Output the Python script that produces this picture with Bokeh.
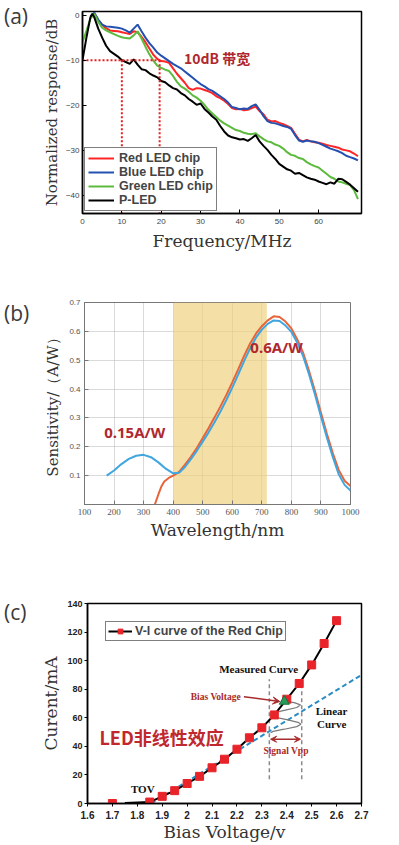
from bokeh.plotting import figure
from bokeh.models import Range1d, FixedTicker, Label, Legend, LegendItem, Arrow, VeeHead, Div
from bokeh.layouts import column, row
from bokeh.embed import file_html
from bokeh.resources import INLINE
from bokeh.core.properties import value

# ---------------- Panel (a) data ----------------
black_x = [0, 1, 2, 2.5, 3] + list(range(4, 71))
black_y = [-10, -5, -0.5, 0.3, -0.5,
           -3, -5, -6.8, -8, -8.6, -9.2, -10.0, -10.4, -10.8, -9.8, -11, -12, -12.2, -12.9, -13.4,
           -13.8, -14.6, -14.9, -15.6, -16.2, -16.5, -17.3, -17.8, -18.6, -19.2, -19.9, -19.6, -20.8,
           -21.6, -22.5, -23.2, -24.6, -25.8, -26.7, -27.1, -27.3, -27.6, -27.5, -27.9, -27.3, -26.6,
           -28, -29, -29.9, -31, -31.9, -33, -33.6, -34.2, -34.5, -35.2, -35, -35.5, -36, -36.3, -36.5,
           -36.9, -37.2, -37.5, -37.1, -37.4, -36.3, -36.4, -37, -37.6, -38.4, -39.2]
green_x = [0, 1, 2, 3] + list(range(4, 71))
green_y = [-6, -3.5, -0.8, 0.3,
           -1.5, -2.8, -3.4, -3.8, -4.2, -4.6, -4.9, -5.1, -5.2, -4.5, -3.6, -5.2, -7, -8.7, -10.1,
           -11.2, -11.7, -12.1, -12.4, -13.5, -14.8, -15.8, -16.3, -17, -17.8, -18.3, -19, -19.9, -21,
           -21.8, -22.6, -23.4, -24, -24.5, -25, -25.5, -25.7, -26.1, -26.3, -26.4, -26.2, -26.9, -27.5,
           -28, -28.2, -28.7, -29, -29.6, -30.4, -31, -31.2, -31.7, -31.9, -32.6, -33.1, -33.5, -33.8,
           -34.5, -35.2, -35.9, -36.3, -36.9, -37.1, -37.4, -37.7, -38.8, -40.8]
red_x = [2, 3] + list(range(4, 71))
red_y = [-0.5, 0.5,
         -1.2, -2.2, -2.9, -3.4, -3.5, -3.6, -3.8, -4, -4.2, -3.6, -3.8, -4.8, -6, -7.4, -8.8, -9.7,
         -10.2, -10.3, -10.6, -11.8, -13, -14, -15, -16.2, -16.6, -16.2, -16.3, -16.6, -16.9, -17.3,
         -18, -18.4, -19, -19.7, -20.6, -20.9, -20.8, -21.1, -21, -20.6, -20.3, -21.3, -22, -23.2,
         -23.6, -23.5, -23.9, -24.2, -24.6, -25, -26.3, -27.6, -28, -27.7, -28, -28.2, -28.3, -28.5,
         -28.8, -29, -29.2, -29.4, -29.8, -30, -30.2, -30.7, -31.3]
blue_x = [2, 3] + list(range(4, 71))
blue_y = [-0.3, 0.5,
          -1, -2.1, -2.5, -2.6, -2.7, -2.8, -3, -3.4, -3.9, -3, -2.1, -3.6, -5, -6.2, -7.2, -8.3, -9,
          -9.6, -10.2, -10.8, -11.3, -11.8, -12.5, -13.2, -13.9, -14.6, -15.3, -15.8, -16.4, -16.8,
          -17.4, -18, -18.6, -19.4, -20.4, -20.6, -20.9, -20.7, -20.8, -20.2, -19.8, -21, -22.4, -23.5,
          -23.9, -24, -24.3, -24.6, -24.8, -25.2, -26.6, -27.8, -28.1, -27.8, -28, -28.1, -28.4, -28.8,
          -29.2, -29.6, -29.9, -30.2, -30.6, -31.2, -31.5, -31.8, -32.2]
bw_level = -10
bw_freqs = [10, 19.6]
a_xticks = [0, 10, 20, 30, 40, 50, 60]
a_yticks = [0, -10, -20, -30, -40]

# ---------------- Panel (b) data ----------------
wl_blue = [175, 200, 225, 250, 275, 300, 325, 350, 375, 400, 420, 440, 460, 480, 500, 520, 540, 560,
           580, 600, 620, 640, 660, 680, 700, 720, 740, 760, 780, 800, 820, 840, 860, 880, 900, 920,
           940, 960, 980, 1000]
sens_blue = [0.100, 0.118, 0.140, 0.158, 0.169, 0.172, 0.164, 0.146, 0.124, 0.108, 0.110, 0.130,
             0.157, 0.186, 0.218, 0.250, 0.285, 0.322, 0.362, 0.405, 0.450, 0.497, 0.540, 0.578,
             0.606, 0.626, 0.638, 0.636, 0.620, 0.598, 0.560, 0.513, 0.450, 0.380, 0.305, 0.232,
             0.165, 0.105, 0.068, 0.048]
wl_red = [338, 350, 360, 370, 385, 400, 420, 440, 460, 480, 500, 520, 540, 560, 580, 600, 620, 640,
          660, 680, 700, 720, 740, 760, 780, 800, 820, 840, 860, 880, 900, 920, 940, 960, 980, 1000]
sens_red = [0.000, 0.035, 0.062, 0.080, 0.092, 0.100, 0.113, 0.138, 0.165, 0.196, 0.230, 0.265,
            0.302, 0.340, 0.380, 0.423, 0.468, 0.515, 0.557, 0.592, 0.618, 0.638, 0.652, 0.650,
            0.634, 0.610, 0.572, 0.525, 0.462, 0.392, 0.318, 0.245, 0.178, 0.120, 0.082, 0.064]
band_left = [400]
band_right = [717]
b_xticks = [100, 200, 300, 400, 500, 600, 700, 800, 900, 1000]
b_yticks = [0.1, 0.2, 0.3, 0.4, 0.5, 0.6, 0.7]

# ---------------- Panel (c) data ----------------
volt = [1.70, 1.85, 1.90, 1.95, 2.00, 2.05, 2.10, 2.15, 2.20, 2.25, 2.30, 2.35, 2.40, 2.45, 2.50, 2.55, 2.60]
curr = [0, 1, 5, 9, 14, 19, 25, 31, 38, 46, 53, 62, 73, 84, 97, 112, 128]
curve_v = [1.75] + volt[1:]
curve_i = [0.3] + curr[1:]
lin_v = [1.855, 2.7]
lin_i = [0, 90]
bias_v = [2.39]
bias_i = [71.5]
vpp_v = [2.33, 2.46]
vpp_i = [17, 87]
wave_v = [2.39, 2.43, 2.455, 2.44, 2.39, 2.345, 2.335, 2.35, 2.40, 2.445, 2.457, 2.44, 2.39, 2.345, 2.335]
wave_i = [71.5, 70.6, 69, 67.2, 65.2, 63.4, 62, 60.5, 58.7, 56.8, 55.5, 53.8, 52, 50.5, 49.5]
c_xticks = [1.6, 1.7, 1.8, 1.9, 2.0, 2.1, 2.2, 2.3, 2.4, 2.5, 2.6, 2.7]
c_yticks = [0, 20, 40, 60, 80, 100, 120, 140]

panel_tags = ["(a)", "(b)", "(c)"]

SERIF = "DejaVu Serif"
SANS = "Liberation Sans"
CJK = "Noto Sans CJK SC"
DARKRED = "#b0282e"
SIDE_W = 38


def make_fig(xr, yr, fw, fh, bl, br, bt, bb):
    p = figure(x_range=Range1d(*xr), y_range=Range1d(*yr), frame_width=fw, frame_height=fh,
               min_border_left=bl, min_border_right=br, min_border_top=bt, min_border_bottom=bb,
               output_backend="svg", toolbar_location=None)
    p.background_fill_color = "white"
    p.border_fill_color = "white"
    p.axis.minor_tick_line_color = None
    p.axis.major_tick_in = 4
    p.axis.major_tick_out = 0
    p.axis.axis_label_text_font = SERIF
    p.axis.axis_label_text_font_style = "normal"
    p.axis.axis_label_text_font_size = "17px"
    p.axis.axis_label_text_color = "#333333"
    return p


def tag_div(height, tag, center_y):
    # narrow strip holding the panel letter (line-height 24px -> centre = pad + 12)
    return Div(text=tag, width=SIDE_W, height=height, margin=0,
               styles={"font-family": "'Open Sans'", "font-size": "21px", "color": "#3a3a3a",
                       "line-height": "24px", "padding-top": f"{center_y - 12}px",
                       "padding-left": "4px", "box-sizing": "border-box"})


# ================= Panel (a) =================
pa = make_fig((0, 70.9), (-44, 0.8), 279, 202, 82 - SIDE_W, 38, 11, 40)
pa.grid.grid_line_color = None
pa.outline_line_color = "black"
pa.outline_line_width = 1.5
pa.axis.axis_line_color = "black"
pa.axis.axis_line_width = 1.5
pa.xaxis.ticker = FixedTicker(ticks=a_xticks)
pa.yaxis.ticker = FixedTicker(ticks=a_yticks)
pa.axis.major_label_text_font = SANS
pa.axis.major_label_text_font_size = "8px"
pa.axis.major_label_text_color = "#444444"
pa.xaxis.axis_label = "Frequency/MHz"
pa.yaxis.axis_label = "Normalized response/dB"
pa.yaxis.axis_label_text_font_size = "15px"
pa.yaxis.axis_label_standoff = 2
pa.xaxis.axis_label_standoff = 4
pa.xaxis.major_label_standoff = 5
pa.yaxis.major_label_standoff = 3

r_red = pa.line(red_x, red_y, line_color="#ff2525", line_width=2)
r_blue = pa.line(blue_x, blue_y, line_color="#2450b0", line_width=2)
r_green = pa.line(green_x, green_y, line_color="#5cba3c", line_width=2)
r_black = pa.line(black_x, black_y, line_color="black", line_width=2)

pa.line([0, bw_freqs[1]], [bw_level, bw_level], line_color="#e52020", line_width=2, line_dash="2 2")
for f in bw_freqs:
    pa.line([f, f], [bw_level, -44], line_color="#e52020", line_width=2, line_dash="2 2")

leg_a = Legend(items=[LegendItem(label="Red LED chip", renderers=[r_red]),
                      LegendItem(label="Blue LED chip", renderers=[r_blue]),
                      LegendItem(label="Green LED chip", renderers=[r_green]),
                      LegendItem(label="P-LED", renderers=[r_black])],
               location="bottom_left", margin=2, padding=3, spacing=0,
               glyph_width=26, glyph_height=14, label_height=14, label_standoff=5,
               label_text_font=SANS, label_text_font_style="bold", label_text_font_size="12.5px",
               border_line_color="black", border_line_width=1, background_fill_alpha=1)
pa.add_layout(leg_a)

pa.add_layout(Label(x=34.2, y=-9.5, text="10dB 带宽", text_font=CJK, text_font_style="bold",
                    text_font_size="14px", text_color=DARKRED, text_align="center",
                    text_baseline="middle"))

# ================= Panel (b) =================
pb = make_fig((100, 1000), (0, 0.7), 266, 202, 84 - SIDE_W, 49, 49, 42)
pb.outline_line_color = "#777777"
pb.outline_line_width = 1
pb.axis.axis_line_color = "#777777"
pb.axis.major_tick_line_color = "#777777"
pb.xaxis.ticker = FixedTicker(ticks=b_xticks)
pb.yaxis.ticker = FixedTicker(ticks=b_yticks)
pb.grid.grid_line_color = "#b5b5b5"
pb.grid.grid_line_dash = "1 1"
pb.grid.grid_line_width = 1
pb.xaxis.major_label_text_font = "Liberation Serif"
pb.xaxis.major_label_text_font_size = "9px"
pb.yaxis.major_label_text_font = SANS
pb.yaxis.major_label_text_font_size = "8px"
pb.axis.major_label_text_color = "#555555"
pb.yaxis.major_label_standoff = 4
pb.xaxis.major_label_standoff = 4
pb.xaxis.axis_label = "Wavelength/nm"
pb.yaxis.axis_label = "Sensitivity/（A/W）"
pb.yaxis.axis_label_text_font_size = "15px"
pb.yaxis.axis_label_standoff = 4
pb.xaxis.axis_label_standoff = 2

pb.quad(left=band_left, right=band_right, bottom=[0], top=[0.7], fill_color="#efd27e",
        fill_alpha=0.68, line_color=None)
pb.line(wl_red, sens_red, line_color="#e8643a", line_width=2)
pb.line(wl_blue, sens_blue, line_color="#3fa6e0", line_width=2)

pb.add_layout(Label(x=750, y=0.546, text="0.6A/W", text_font="Noto Sans", text_font_style="bold",
                    text_font_size="15px", text_color=DARKRED, text_align="center",
                    text_baseline="middle"))
pb.add_layout(Label(x=270, y=0.25, text="0.15A/W", text_font="Noto Sans", text_font_style="bold",
                    text_font_size="15px", text_color=DARKRED, text_align="center",
                    text_baseline="middle"))

# ================= Panel (c) =================
pc = make_fig((1.6, 2.7), (0, 140), 274, 200, 85 - SIDE_W, 40, 57, 40)
pc.grid.grid_line_color = None
pc.outline_line_color = "black"
pc.outline_line_width = 1.5
pc.axis.axis_line_color = "black"
pc.axis.axis_line_width = 1.5
pc.axis.major_tick_in = 0
pc.axis.major_tick_out = 3
pc.xaxis.ticker = FixedTicker(ticks=c_xticks)
pc.yaxis.ticker = FixedTicker(ticks=c_yticks)
pc.axis.major_label_text_font = SANS
pc.axis.major_label_text_font_style = "bold"
pc.xaxis.major_label_text_font_size = "10px"
pc.yaxis.major_label_text_font_size = "9px"
pc.axis.major_label_text_color = "#222222"
pc.yaxis.major_label_standoff = 2
pc.xaxis.major_label_standoff = 4
pc.xaxis.axis_label = "Bias Voltage/v"
pc.yaxis.axis_label = "Curent/mA"
pc.yaxis.axis_label_standoff = 3
pc.xaxis.axis_label_standoff = 0

for v in vpp_v:
    pc.line([v, v], vpp_i, line_color="#8a8a8a", line_width=1.5, line_dash="4 3")
pc.line(lin_v, lin_i, line_color="#2b8cc4", line_width=2, line_dash="5 3")
pc.line(wave_v, wave_i, line_color="#7a7a7a", line_width=1.2)
r_curve = pc.line(curve_v, curve_i, line_color="black", line_width=2)
r_sq = pc.scatter(volt, curr, marker="square", size=8, fill_color="#e8242a", line_color="#e8242a")
pc.scatter(bias_v, bias_i, marker="triangle", size=10, fill_color="#2a9a5a", line_color="#1e6e40")

pc.add_layout(Arrow(end=VeeHead(size=7, line_color="#a82a2a", fill_color="#a82a2a"),
                    x_start=2.228, y_start=74.8, x_end=2.372, y_end=71.4,
                    line_color="#a82a2a", line_width=1.5))
pc.add_layout(Arrow(start=VeeHead(size=6, line_color="#a82a2a", fill_color="#a82a2a"),
                    end=VeeHead(size=6, line_color="#a82a2a", fill_color="#a82a2a"),
                    x_start=vpp_v[0] + 0.005, y_start=45, x_end=vpp_v[1] - 0.005, y_end=45,
                    line_color="#a82a2a", line_width=1.5))

leg_c = Legend(items=[LegendItem(label="V-I curve of the Red Chip", renderers=[r_curve, r_sq])],
               location="top_left", margin=18, padding=2, spacing=0,
               glyph_width=24, glyph_height=12, label_height=12, label_standoff=3,
               label_text_font=SANS, label_text_font_style="bold", label_text_font_size="12.5px",
               border_line_color="black", border_line_width=1.2, background_fill_alpha=1)
pc.add_layout(leg_c)

pc.add_layout(Label(x=2.287, y=94.5, text="Measured Curve", text_font="Liberation Serif",
                    text_font_style="bold", text_font_size="11px", text_color="#111111",
                    text_align="center", text_baseline="middle"))
pc.add_layout(Label(x=2.115, y=74.8, text="Bias Voltage", text_font="Liberation Serif",
                    text_font_style="bold", text_font_size="9.5px", text_color="#a82a2a",
                    text_align="center", text_baseline="middle"))
pc.add_layout(Label(x=2.58, y=64.8, text="Linear", text_font="Liberation Serif",
                    text_font_style="bold", text_font_size="11px", text_color="#111111",
                    text_align="center", text_baseline="middle"))
pc.add_layout(Label(x=2.58, y=55.6, text="Curve", text_font="Liberation Serif",
                    text_font_style="bold", text_font_size="11px", text_color="#111111",
                    text_align="center", text_baseline="middle"))
pc.add_layout(Label(x=2.397, y=36.6, text="Signal Vpp", text_font="Liberation Serif",
                    text_font_style="bold", text_font_size="9.5px", text_color="#a82a2a",
                    text_align="center", text_baseline="middle"))
pc.add_layout(Label(x=1.822, y=10.4, text="TOV", text_font="Liberation Serif",
                    text_font_style="bold", text_font_size="11px", text_color="#111111",
                    text_align="center", text_baseline="middle"))
pc.add_layout(Label(x=1.648, y=46.3, text="LED非线性效应", text_font=CJK,
                    text_font_style="bold", text_font_size="18px", text_color="#c0282e",
                    text_align="left", text_baseline="middle"))

ha = 11 + 202 + 40
hb = 49 + 202 + 42
hc = 57 + 200 + 40
sa = tag_div(ha, panel_tags[0], 16)
sb = tag_div(hb, panel_tags[1], 313 - ha)
sc = tag_div(hc, panel_tags[2], 612 - ha - hb)

layout = column(row(sa, pa, spacing=0), row(sb, pb, spacing=0), row(sc, pc, spacing=0), spacing=0)
open("out.html", "w").write(file_html(layout, INLINE))
